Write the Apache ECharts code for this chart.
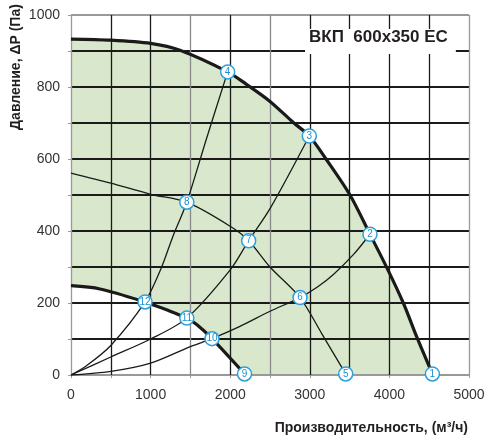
<!DOCTYPE html>
<html><head><meta charset="utf-8">
<script src="https://cdn.jsdelivr.net/npm/echarts@6/dist/echarts.min.js"></script>
<style>html,body{margin:0;padding:0;background:#fff}#c{width:488px;height:443px}</style>
</head><body><div id="c"></div>
<script>
const chartTitle = 'ВКП  600x350 EC';
const xName = 'Производительность, (м³/ч)';
const yName = 'Давление, ΔP (Па)';
const xTicks = [0, 1000, 2000, 3000, 4000, 5000];
const yTicks = [0, 200, 400, 600, 800, 1000];
// fan curves [Q m3/h, P Pa]
const maxCurve = [[0,933],[500,930],[1000,921],[1369,902],[1968,842],[2200,808],[2500,760],[2800,700],[2994,664],[3204,600],[3505,500],[3756,391],[3966,299],[4175,200],[4345,105],[4540,3]];
const midCurve = [[0,561],[500,533],[1000,502],[1455,480],[2000,413],[2232,373],[2500,300],[2877,215],[3150,115],[3451,3]];
const minCurve = [[0,248],[364,239],[930,203],[1202,181],[1455,158],[1579,140],[1771,101],[2180,3]];
// system curves
const sysA = [[0,0],[190,25],[500,82],[930,203],[1130,295],[1280,385],[1455,480],[1700,655],[1968,842]];
const sysB = [[0,0],[500,50],[1000,100],[1455,158],[2000,292],[2232,373],[2500,462],[2994,664]];
const sysC = [[0,0],[500,10],[1000,33],[1500,79],[1771,101],[2123,135],[2500,177],[2877,215],[3100,245],[3300,280],[3550,335],[3756,391]];
// numbered operating points
const pointLabels = ['1','2','3','4','5','6','7','8','9','10','11','12'];
const pointQ = [4540,3756,2994,1968,3451,2877,2232,1455,2180,1771,1455,930];
const pointP = [3,391,664,842,3,215,373,480,3,101,158,203];

const FONT = 'Liberation Sans, Arial, sans-serif';
const chart = echarts.init(document.getElementById('c'), null, {renderer: 'canvas'});
const thin = (data) => ({type:'line', data, smooth:0.3, symbol:'none', z:4, silent:true,
  lineStyle:{color:'#1a1a1a', width:1.3}});
const vColors = ['#999','#1a1a1a','#1a1a1a','#8a8a8a','#1a1a1a','#8a8a8a','#1a1a1a','#1a1a1a','#1a1a1a','#1a1a1a','#999'];
const hColors = ['#999','#1a1a1a','#1a1a1a','#1a1a1a','#1a1a1a','#1a1a1a','#1a1a1a','#1a1a1a','#1a1a1a','#1a1a1a','#999'];
chart.setOption({
  animation:false,
  backgroundColor:'#fff',
  title:{text:chartTitle, left:305, top:29, padding:[0,8,8,4], backgroundColor:'#fff',
    textStyle:{fontFamily:FONT, fontSize:17, fontWeight:'bold', color:'#231f20'}},
  grid:{left:71, right:19, top:15, bottom:68},
  xAxis:{type:'value', min:0, max:5000, interval:500, z:3,
    axisLine:{show:true, lineStyle:{color:'#999', width:1}},
    axisTick:{show:true, length:3, lineStyle:{color:'#999'}},
    axisLabel:{margin:13, fontFamily:FONT, fontSize:14, color:'#333',
      formatter:v => xTicks.includes(v) ? String(v) : ''},
    splitLine:{show:true, lineStyle:{color:vColors, width:1.3}}},
  yAxis:{type:'value', min:0, max:1000, interval:100, z:3,
    axisLine:{show:true, lineStyle:{color:'#999', width:1}},
    axisTick:{show:true, length:3, lineStyle:{color:'#999'}},
    axisLabel:{margin:11, fontFamily:FONT, fontSize:14, color:'#333',
      formatter:v => yTicks.includes(v) ? String(v) : ''},
    splitLine:{show:true, lineStyle:{color:hColors, width:2}}},
  graphic:[
    {type:'text', x:16, y:67, rotation:Math.PI/2, z:10,
      style:{text:yName, x:0, y:0, align:'center', verticalAlign:'middle', font:'bold 14px ' + FONT, fill:'#231f20'}},
    {type:'text', x:468, y:428, z:10,
      style:{text:xName, x:0, y:0, align:'right', verticalAlign:'middle', font:'bold 14px ' + FONT, fill:'#231f20'}}
  ],
  series:[
    {type:'line', data:maxCurve, smooth:0.3, symbol:'none', z:1, silent:true,
      lineStyle:{width:0}, areaStyle:{color:'#d9e8cc', opacity:1}},
    {type:'line', data:minCurve, smooth:0.3, symbol:'none', z:2, silent:true,
      lineStyle:{width:0}, areaStyle:{color:'#ffffff', opacity:1}},
    {type:'line', data:maxCurve, smooth:0.3, symbol:'none', z:4, silent:true, lineStyle:{color:'#1a1a1a', width:3.2}},
    {type:'line', data:minCurve, smooth:0.3, symbol:'none', z:4, silent:true, lineStyle:{color:'#1a1a1a', width:3.2}},
    thin(midCurve), thin(sysA), thin(sysB), thin(sysC),
    {type:'scatter', z:6, silent:true, symbol:'circle', symbolSize:14,
      data:pointQ.map((q,i) => ({value:[q, pointP[i]], name:pointLabels[i]})),
      itemStyle:{color:'#fff', borderColor:'#2f9fdc', borderWidth:1.5, opacity:1},
      label:{show:true, position:'inside', formatter:p => p.name, fontFamily:FONT, fontSize:10, color:'#1e8fd3'}}
  ]
});
</script></body></html>
